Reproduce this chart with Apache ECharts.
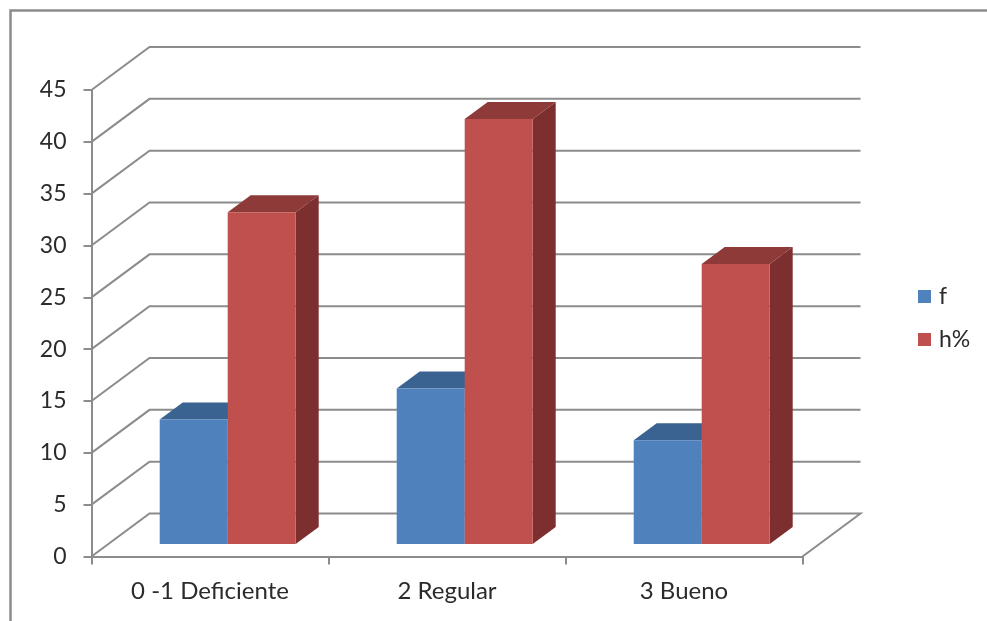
<!DOCTYPE html>
<html><head><meta charset="utf-8">
<style>html,body{margin:0;padding:0;background:#fff}#c{width:987px;height:621px}</style>
<script src="https://cdn.jsdelivr.net/npm/echarts@6/dist/echarts.min.js"></script>
</head><body><div id="c"></div>
<script>
const categories = ['0 -1 Deficiente', '2 Regular', '3 Bueno'];
const fValues = [12, 15, 10];
const hValues = [32, 41, 27];
const yTicks = [0, 5, 10, 15, 20, 25, 30, 35, 40, 45];

const GRAY = '#8c8c8c';
const WALL_DX = 58, WALL_DY = -43;
const BAR_DX = 17.7, BAR_DY = -12.5, BAR_W = 68, SIDE_DX = 23, SIDE_DY = -17;

function wallItem(params, api) {
  const v = api.value(1);
  const cs = params.coordSys;
  const y = api.coord([0, v])[1];
  const x0 = cs.x, x1 = cs.x + cs.width;
  const style = { stroke: GRAY, lineWidth: 2, fill: 'none' };
  const pts = [[x0, y], [x0 + WALL_DX, y + WALL_DY], [x1 + WALL_DX, y + WALL_DY]];
  if (v === 0) pts.push([x1, y]);
  return { type: 'polyline', shape: { points: pts }, style, silent: true };
}

function barRenderer(index, colors) {
  return function (params, api) {
    const c = api.coord([api.value(0), 0]);
    const t = api.coord([api.value(0), api.value(1)]);
    const l = c[0] + BAR_DX + (index - 1) * BAR_W;
    const r = l + BAR_W;
    const b = c[1] + BAR_DY, h = t[1] + BAR_DY;
    return { type: 'group', children: [
      { type: 'polygon', shape: { points: [[r, h], [r + SIDE_DX, h + SIDE_DY], [r + SIDE_DX, b + SIDE_DY], [r, b]] }, style: { fill: colors[2] } },
      { type: 'polygon', shape: { points: [[l, h], [l + SIDE_DX, h + SIDE_DY], [r + SIDE_DX, h + SIDE_DY], [r, h]] }, style: { fill: colors[1] } },
      { type: 'rect', shape: { x: l, y: h, width: BAR_W, height: b - h }, style: { fill: colors[0] } }
    ] };
  };
}

const chart = echarts.init(document.getElementById('c'), null, { renderer: 'canvas' });
const font = { fontFamily: 'Lato', fontSize: 23, color: '#2b2b2b' };
chart.setOption({
  animation: false,
  backgroundColor: '#fff',
  grid: { left: 91.5, top: 90, width: 711, height: 466.5 },
  graphic: [{ type: 'polyline', silent: true, z: 0,
    shape: { points: [[10.5, 621], [10.5, 10.5], [987, 10.5]] },
    style: { stroke: GRAY, lineWidth: 2.5, fill: 'none' } }],
  legend: { orient: 'vertical', left: 913, top: 280, itemWidth: 13, itemHeight: 13, itemGap: 20,
    data: ['f', 'h%'], textStyle: Object.assign({ padding: [0, 0, 0, 3] }, font), icon: 'rect', selectedMode: false },
  xAxis: { type: 'category', data: categories, boundaryGap: true,
    axisLine: { lineStyle: { color: GRAY, width: 2 } },
    axisTick: { show: true, alignWithLabel: false, length: 8, lineStyle: { color: GRAY, width: 2 } },
    axisLabel: Object.assign({ margin: 23 }, font, { fontSize: 24 }) },
  yAxis: { type: 'value', min: 0, max: 45, interval: 5,
    splitLine: { show: false },
    axisLine: { show: true, lineStyle: { color: GRAY, width: 2 } },
    axisTick: { show: true, length: 8, lineStyle: { color: GRAY, width: 2 } },
    axisLabel: Object.assign({ margin: 25, padding: [4, 0, 0, 0] }, font) },
  series: [
    { type: 'custom', name: 'walls', renderItem: wallItem, z: 1, silent: true,
      data: yTicks.map(v => [0, v]), encode: { x: 0, y: 1 } },
    { type: 'custom', name: 'f', itemStyle: { color: '#4F81BD' }, z: 3,
      renderItem: barRenderer(0, ['#4F81BD', '#3A6391', '#35587F']),
      data: fValues.map((v, i) => [i, v]), encode: { x: 0, y: 1 } },
    { type: 'custom', name: 'h%', itemStyle: { color: '#C0504D' }, z: 4,
      renderItem: barRenderer(1, ['#C0504D', '#8E3A38', '#7C2F2E']),
      data: hValues.map((v, i) => [i, v]), encode: { x: 0, y: 1 } }
  ]
});
</script></body></html>
